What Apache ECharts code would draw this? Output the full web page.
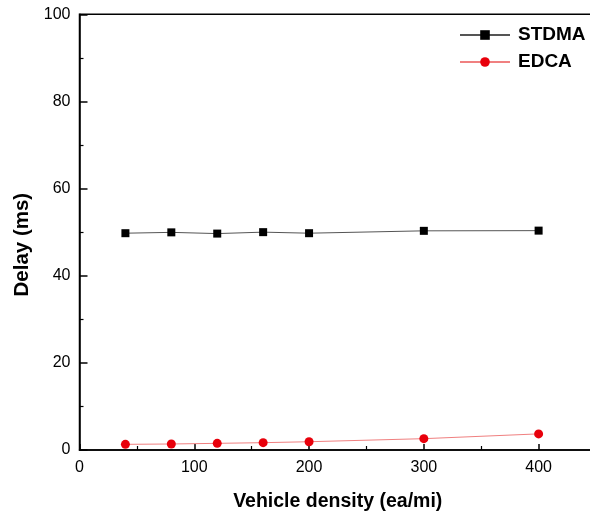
<!DOCTYPE html>
<html><head><meta charset="utf-8">
<script src="https://cdn.jsdelivr.net/npm/echarts@6/dist/echarts.min.js"></script>
<style>html,body{margin:0;padding:0;background:#fff}#c{width:590px;height:516px}</style>
</head><body><div id="c"></div>
<script>
const xValues = [40, 80, 120, 160, 200, 300, 400];
const stdma = [49.76, 49.95, 49.67, 50.0, 49.76, 50.3, 50.35];
const edca = [1.3, 1.38, 1.53, 1.68, 1.9, 2.6, 3.7];
const seriesNames = ['STDMA', 'EDCA'];
const xTitle = 'Vehicle density (ea/mi)';
const yTitle = 'Delay (ms)';

const font = '"Liberation Sans", Arial, sans-serif';
const chart = echarts.init(document.getElementById('c'));
chart.setOption({
  animation: false,
  backgroundColor: '#fff',
  grid: { left: 79.5, top: 14.3, bottom: 66, right: -6, show: true, borderColor: '#000', borderWidth: 1.5, outerBoundsMode: 'none' },
  legend: {
    left: 459, top: 25, orient: 'vertical', padding: 0, itemWidth: 50, itemHeight: 12, itemGap: 7,
    textStyle: { fontFamily: font, fontWeight: 'bold', fontSize: 19, lineHeight: 20, color: '#000', padding: [0,0,0,3] },
    data: seriesNames
  },
  xAxis: {
    type: 'value', min: 0, max: 450, interval: 100,
    name: xTitle, nameLocation: 'middle', nameGap: 42,
    nameTextStyle: { fontFamily: font, fontWeight: 'bold', fontSize: 19.5, color: '#000' },
    axisLine: { lineStyle: { color: '#000', width: 1.5 } },
    axisTick: { inside: true, length: 6, lineStyle: { color: '#000', width: 1.5 } },
    minorTick: { show: true, splitNumber: 2, length: 4, lineStyle: { color: '#000', width: 1.2 } },
    axisLabel: { fontFamily: font, fontSize: 16, color: '#000', margin: 10, showMaxLabel: false },
    splitLine: { show: false }
  },
  yAxis: {
    type: 'value', min: 0, max: 100, interval: 20,
    name: yTitle, nameLocation: 'middle', nameGap: 47,
    nameTextStyle: { fontFamily: font, fontWeight: 'bold', fontSize: 20.5, color: '#000', padding: [0, 25, 0, 0] },
    axisLine: { lineStyle: { color: '#000', width: 1.5 } },
    axisTick: { inside: true, length: 8, lineStyle: { color: '#000', width: 1.5 } },
    minorTick: { show: true, splitNumber: 2, length: 4, lineStyle: { color: '#000', width: 1.2 } },
    axisLabel: { fontFamily: font, fontSize: 16, color: '#000', margin: 9 },
    splitLine: { show: false }
  },
  series: [
    {
      name: seriesNames[0], type: 'line', data: xValues.map((x, i) => [x, stdma[i]]),
      symbol: 'rect', symbolSize: 8, itemStyle: { color: '#000' },
      lineStyle: { color: '#555', width: 1 }
    },
    {
      name: seriesNames[1], type: 'line', data: xValues.map((x, i) => [x, edca[i]]),
      symbol: 'circle', symbolSize: 9, itemStyle: { color: '#e8000b' },
      lineStyle: { color: '#f08080', width: 1 }
    }
  ]
});
</script></body></html>
